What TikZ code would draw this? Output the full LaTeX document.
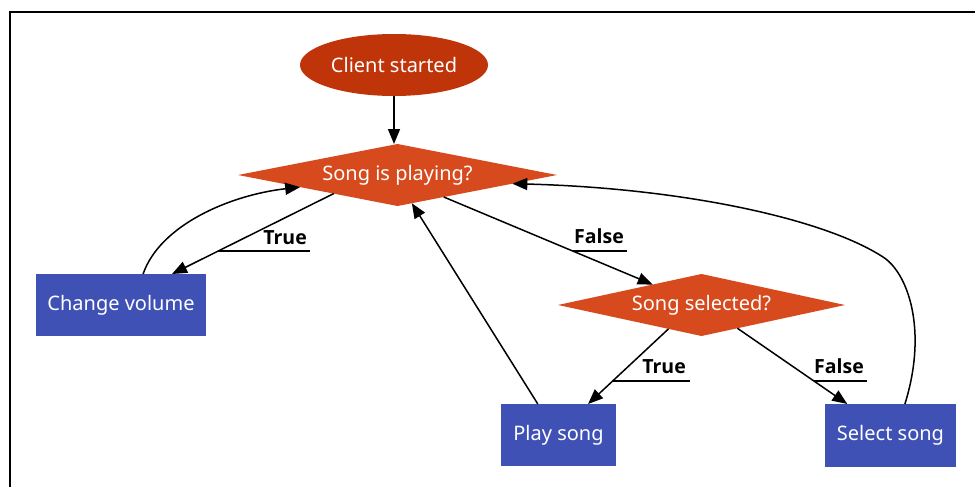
\documentclass[tikz,border=0pt]{standalone}
\usepackage{fontspec}
\setmainfont{Noto Sans}
\newfontfamily\labfont{Open Sans}
\usetikzlibrary{shapes.geometric,arrows.meta,calc}
\definecolor{startred}{RGB}{192,52,10}
\definecolor{decred}{RGB}{214,74,30}
\definecolor{actblue}{RGB}{63,81,181}
\tikzset{
  shapetext/.style={text=white,font=\fontsize{20}{23}\selectfont,inner sep=0pt,outer sep=0pt},
  startnode/.style={shapetext,ellipse,fill=startred,minimum width=188pt,minimum height=62pt},
  decision/.style={shapetext,diamond,fill=decred,minimum height=62pt},
  action/.style={shapetext,rectangle,fill=actblue,minimum height=62pt},
  arr/.style={line width=1.5pt,-{Triangle[length=15pt,width=12pt]}},
  lab/.style={font=\labfont\bfseries\fontsize{19.5}{22}\selectfont,inner sep=0pt,anchor=base east},
  uline/.style={line width=1.4pt}
}
\begin{document}
\begin{tikzpicture}[x=1pt,y=-1pt]
\useasboundingbox (0,0) rectangle (975,487);
\fill[white] (0,0) rectangle (975,487);
\draw[line width=2pt] (10,487) -- (10,12.5) -- (975,12.5);

\node[startnode] (start) at (394,65) {Client started};
\node[decision,aspect=5.15,minimum width=319pt] (sp) at (397.5,175) {Song is playing?};
\node[decision,aspect=4.63,minimum width=287pt] (ss) at (701.5,305) {Song selected?};
\node[action,minimum width=170pt] (cv) at (121,305) {Change volume};
\node[action,minimum width=115pt] (ps) at (558.5,435) {Play song};
\node[action,minimum width=131pt,minimum height=63pt] (sel) at (890.5,435.5) {Select song};

\node[lab] (t1) at (307,244) {True};
\node[lab] (f1) at (624,243.5) {False};
\node[lab] (t2) at (686,373) {True};
\node[lab] (f2) at (864,373) {False};

\draw[arr] (start.south) -- (start.south |- sp.north);
\draw[arr] ($(sp.west)!0.6!(sp.south)$) -- coordinate[pos=0.714] (l1) ($(cv.north west)!0.8!(cv.north east)$);
\draw[uline] (l1) -- ($(t1.east |- l1)+(3,0)$);
\draw[arr] ($(cv.north west)!0.63!(cv.north east)$) .. controls (160,225) and (230,195) .. ($(sp.west)!0.39!(sp.south)$);
\draw[arr] ($(sp.south)!0.29!(sp.east)$) -- coordinate[pos=0.617] (l2) ($(ss.west)!0.66!(ss.north)$);
\draw[uline] (l2) -- ($(f1.east |- l2)+(3,0)$);
\draw[arr] ($(ps.north west)!0.32!(ps.north east)$) -- ($(sp.south)!0.09!(sp.east)$);
\draw[arr] ($(ss.west)!0.77!(ss.south)$) -- coordinate[pos=0.694] (l3) ($(ps.north west)!0.757!(ps.north east)$);
\draw[uline] (l3) -- ($(t2.east |- l3)+(4,0)$);
\draw[arr] ($(ss.south)!0.25!(ss.east)$) -- coordinate[pos=0.697] (l4) ($(sel.north west)!0.17!(sel.north east)$);
\draw[uline] (l4) -- ($(f2.east |- l4)+(3,0)$);
\draw[arr] ($(sel.north west)!0.61!(sel.north east)$) .. controls (928,330) and (908,273) .. (883,257) .. controls (823,218) and (680,188) .. ($(sp.south)!0.72!(sp.east)$);
\end{tikzpicture}
\end{document}
